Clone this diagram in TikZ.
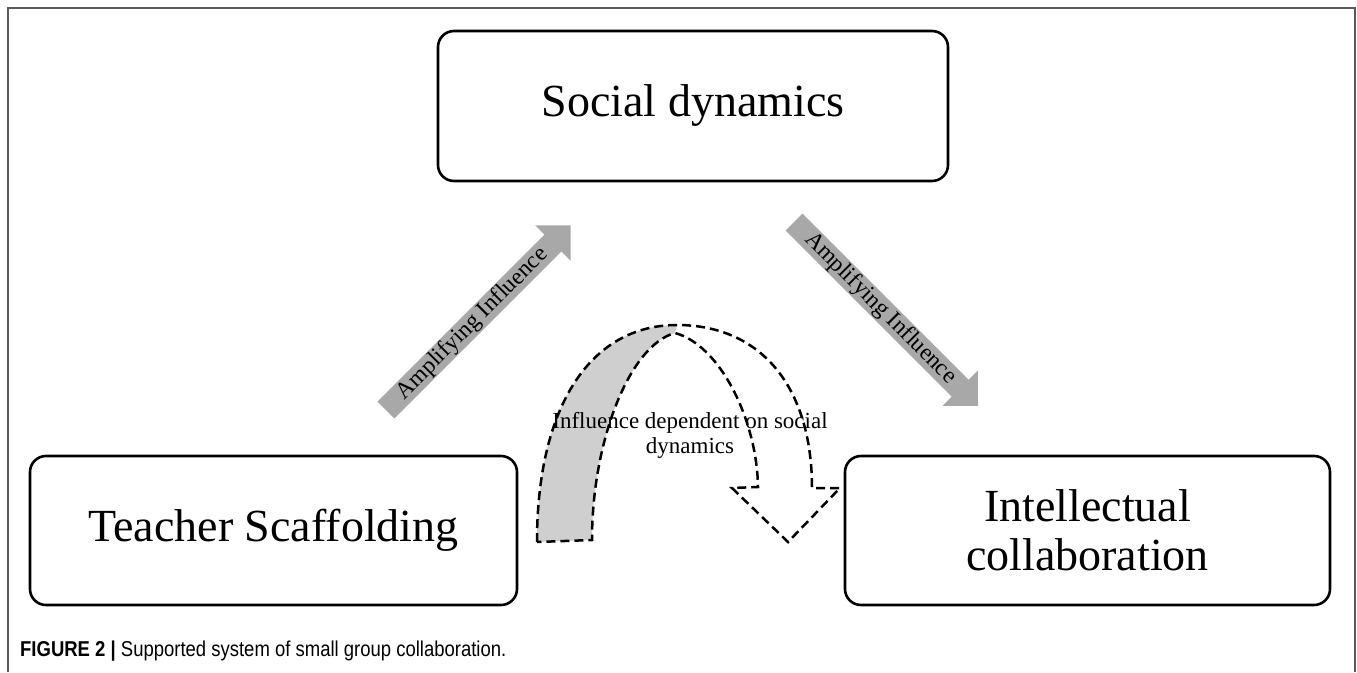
\documentclass[tikz,border=0pt]{standalone}
\usepackage{fontspec}
\setmainfont{Liberation Serif}
\newfontfamily\capfont[FakeStretch=0.86]{Liberation Sans}
\definecolor{arrowgray}{gray}{0.66}
\definecolor{curvegray}{gray}{0.81}
\definecolor{framegray}{gray}{0.35}
\begin{document}
\begin{tikzpicture}[x=1pt,y=-1pt,
  box/.style={draw, line width=2.6pt, rounded corners=16pt, align=center,
    font=\fontsize{46}{49}\selectfont},
  flowarrow/.style={fill=arrowgray},
  arrowlabel/.style={font=\fontsize{23.5}{25}\selectfont, inner sep=0pt},
  dashedarrow/.style={draw, line width=2.5pt, dash pattern=on 9pt off 5pt},
]
\useasboundingbox (0,0) rectangle (1357,672);
\draw[framegray, line width=1.4pt] (8,672) -- (8,8) -- (1355,8) -- (1355,672);

\node[box, minimum width=510, minimum height=150] (social) at (693,106) {Social dynamics};
\node[box, minimum width=487, minimum height=149] (teacher) at (273.5,530.5) {Teacher Scaffolding};
\node[box, minimum width=485, minimum height=149] (intel) at (1087.5,530.5) {Intellectual\\collaboration};

% left amplifying arrow
\begin{scope}[shift={(386,410)}, rotate=45]
  \fill[flowarrow] (0,-12) -- (236,-12) -- (236,-25) -- (261,0) -- (236,25) -- (236,12) -- (0,12) -- cycle;
  \node[arrowlabel, rotate=45] (amp1) at (122,0) {Amplifying Influence};
\end{scope}

% right amplifying arrow
\begin{scope}[shift={(794,222)}, rotate=-45]
  \fill[flowarrow] (0,-12) -- (235,-12) -- (235,-25) -- (260,0) -- (235,25) -- (235,12) -- (0,12) -- cycle;
  \node[arrowlabel, rotate=-45] (amp2) at (122,0) {Amplifying Influence};
\end{scope}

% curved dashed arrow
\fill[curvegray] (537,542) .. controls (537,407) and (590,325) .. (677,325) -- (675,333)
  .. controls (630,345) and (592,440) .. (592,540) -- cycle;
\draw[dashedarrow] (537,542) .. controls (537,407) and (590,325) .. (677,325)
  .. controls (761,325) and (812,387) .. (812,488) -- (840,488) -- (788,542) -- (732,488) -- (758,487)
  .. controls (757,420) and (720,345) .. (675,333)
  .. controls (630,345) and (592,440) .. (592,540) -- cycle;
\node[font=\fontsize{23}{25}\selectfont, align=center, inner sep=0pt] (dep) at (690,435) {Influence dependent on social\\dynamics};

\node[anchor=base west, inner sep=0pt, font=\capfont\fontsize{21.5}{24}\selectfont] (cap) at (20,656)
  {\textbf{FIGURE 2 |} Supported system of small group collaboration.};
\end{tikzpicture}
\end{document}
